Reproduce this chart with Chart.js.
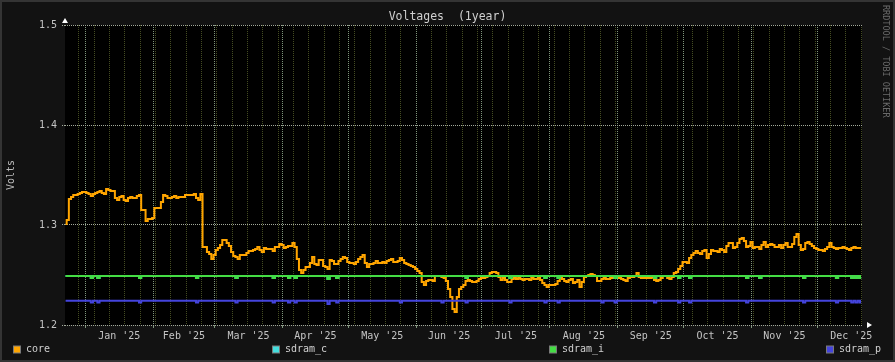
<!DOCTYPE html>
<html>
<head>
<meta charset="utf-8">
<title>Voltages (1year)</title>
<script src="https://cdn.jsdelivr.net/npm/chart.js@4.4.1/dist/chart.umd.min.js"></script>
<style>
  html, body { margin: 0; padding: 0; background: #121212; }
  #wrap { width: 895px; height: 362px; }
</style>
</head>
<body>
<div id="wrap"><canvas id="voltChart" width="895" height="362"></canvas></div>
<script>
/* ── data: x is days since 1 Jan 2025 ── */
const monthLabels = ["Jan '25", "Feb '25", "Mar '25", "Apr '25", "May '25", "Jun '25",
                     "Jul '25", "Aug '25", "Sep '25", "Oct '25", "Nov '25", "Dec '25"];
const monthStartDays = [0, 31, 59, 90, 120, 151, 181, 212, 243, 273, 304, 334];
const monthLengths = [31, 28, 31, 30, 31, 30, 31, 31, 30, 31, 30, 31];
const weekGridFirstDay = -3;          // Sunday 29 Dec 2024
const axisFirstDay = -9.26;
const axisLastDay = 354.4;
const voltTicks = [1.2, 1.3, 1.4, 1.5];

// core: one reading per day, starting 23 Dec 2024
const coreFirstDay = -9;
const coreVolts = [
  1.301, 1.305, 1.326, 1.328, 1.330, 1.330, 1.331, 1.332, 1.333, 1.333,
  1.332, 1.331, 1.329, 1.331, 1.332, 1.333, 1.334, 1.332, 1.331, 1.336,
  1.335, 1.334, 1.334, 1.327, 1.325, 1.328, 1.329, 1.325, 1.324, 1.327,
  1.328, 1.327, 1.327, 1.329, 1.330, 1.315, 1.315, 1.304, 1.306, 1.306,
  1.307, 1.317, 1.317, 1.317, 1.323, 1.330, 1.329, 1.327, 1.327, 1.328,
  1.329, 1.327, 1.328, 1.328, 1.328, 1.330, 1.330, 1.330, 1.330, 1.331,
  1.327, 1.325, 1.331, 1.278, 1.278, 1.273, 1.271, 1.266, 1.270, 1.275,
  1.277, 1.280, 1.285, 1.285, 1.282, 1.279, 1.273, 1.269, 1.268, 1.266,
  1.270, 1.270, 1.270, 1.272, 1.274, 1.274, 1.275, 1.276, 1.278, 1.275,
  1.273, 1.277, 1.276, 1.276, 1.276, 1.274, 1.278, 1.278, 1.281, 1.280,
  1.277, 1.278, 1.279, 1.279, 1.282, 1.278, 1.266, 1.255, 1.252, 1.255,
  1.258, 1.258, 1.262, 1.268, 1.261, 1.260, 1.265, 1.265, 1.259, 1.258,
  1.256, 1.265, 1.264, 1.261, 1.261, 1.264, 1.266, 1.268, 1.267, 1.263,
  1.262, 1.262, 1.261, 1.263, 1.266, 1.268, 1.270, 1.262, 1.258, 1.261,
  1.261, 1.262, 1.264, 1.262, 1.262, 1.263, 1.262, 1.264, 1.265, 1.266,
  1.263, 1.263, 1.264, 1.267, 1.265, 1.262, 1.261, 1.260, 1.259, 1.258,
  1.256, 1.254, 1.252, 1.243, 1.240, 1.244, 1.245, 1.245, 1.244, 1.249,
  1.249, 1.249, 1.248, 1.247, 1.244, 1.236, 1.228, 1.216, 1.213, 1.228,
  1.236, 1.238, 1.240, 1.244, 1.245, 1.244, 1.243, 1.243, 1.244, 1.246,
  1.247, 1.247, 1.248, 1.249, 1.252, 1.253, 1.253, 1.252, 1.248, 1.245,
  1.247, 1.245, 1.243, 1.243, 1.246, 1.247, 1.246, 1.247, 1.246, 1.245,
  1.246, 1.246, 1.245, 1.247, 1.246, 1.246, 1.247, 1.245, 1.242, 1.240,
  1.238, 1.240, 1.240, 1.240, 1.241, 1.244, 1.247, 1.246, 1.244, 1.243,
  1.245, 1.246, 1.242, 1.243, 1.245, 1.238, 1.243, 1.248, 1.249, 1.250,
  1.251, 1.250, 1.249, 1.244, 1.244, 1.246, 1.247, 1.246, 1.246, 1.247,
  1.247, 1.247, 1.247, 1.247, 1.246, 1.245, 1.244, 1.247, 1.248, 1.248,
  1.249, 1.252, 1.248, 1.247, 1.247, 1.247, 1.247, 1.247, 1.248, 1.245,
  1.244, 1.245, 1.247, 1.249, 1.249, 1.247, 1.246, 1.248, 1.252, 1.253,
  1.256, 1.259, 1.263, 1.263, 1.262, 1.267, 1.270, 1.272, 1.274, 1.272,
  1.271, 1.274, 1.275, 1.267, 1.271, 1.275, 1.274, 1.274, 1.273, 1.276,
  1.275, 1.273, 1.279, 1.282, 1.282, 1.277, 1.278, 1.282, 1.286, 1.287,
  1.284, 1.278, 1.279, 1.283, 1.277, 1.278, 1.278, 1.276, 1.280, 1.283,
  1.278, 1.280, 1.281, 1.280, 1.278, 1.278, 1.280, 1.277, 1.280, 1.282,
  1.278, 1.278, 1.281, 1.288, 1.291, 1.280, 1.275, 1.276, 1.282, 1.283,
  1.281, 1.279, 1.277, 1.276, 1.275, 1.275, 1.274, 1.276, 1.278, 1.282,
  1.278, 1.277, 1.276, 1.277, 1.277, 1.278, 1.277, 1.276, 1.275, 1.277,
  1.278, 1.277, 1.277, 1.277
];

// sdram rails are flat; only the days where they dip are listed
const sdramCBase = 1.249;
const sdramIBase = 1.249;
const sdramPBase = 1.2243;
const sdramIDipDays  = [3, 6, 25, 51, 69, 86, 93, 96, 111, 115, 174, 194, 210, 216,
                        242, 260, 271, 276, 302, 308, 328, 343, 350, 352, 354];
const sdramIDipVolts = [1.247, 1.247, 1.247, 1.247, 1.247, 1.247, 1.247, 1.247, 1.246, 1.247,
                        1.247, 1.247, 1.247, 1.247, 1.247, 1.247, 1.247, 1.247, 1.247, 1.247,
                        1.247, 1.247, 1.247, 1.247, 1.247];
const sdramPDipDays  = [3, 6, 25, 51, 69, 86, 93, 96, 111, 115, 144, 163, 174, 194, 210,
                        216, 236, 242, 260, 271, 276, 302, 328, 343, 350, 352, 354];
const sdramPDipVolts = [1.2225, 1.2225, 1.2225, 1.2225, 1.2225, 1.2225, 1.2225, 1.2225, 1.221,
                        1.2225, 1.2225, 1.2225, 1.2225, 1.2225, 1.2225, 1.2225, 1.2225, 1.2225,
                        1.2225, 1.2225, 1.2225, 1.2225, 1.2225, 1.2225, 1.2225, 1.2225, 1.2225];

/* ── build point lists ── */
const corePoints = coreVolts.map((v, i) => ({ x: coreFirstDay + i, y: v }));

function railPoints(base, dipDays, dipVolts) {
  return coreVolts.map((_, i) => {
    const day = coreFirstDay + i;
    const k = dipDays.indexOf(day);
    return { x: day, y: k >= 0 ? dipVolts[k] : base };
  });
}

function buildDayTicks() {
  const ticks = [];
  for (let d = weekGridFirstDay; d <= axisLastDay; d += 7) {
    if (!monthStartDays.includes(d)) ticks.push({ value: d, kind: 'minor' });
  }
  monthStartDays.forEach(d => ticks.push({ value: d, kind: 'major' }));
  monthStartDays.forEach((d, i) => ticks.push({
    value: d + monthLengths[i] / 2, kind: 'label', text: monthLabels[i]
  }));
  return ticks.sort((a, b) => a.value - b.value);
}

/* ── rrdtool-ish frame, title, legend ── */
const rrdDecor = {
  id: 'rrdDecor',
  beforeDraw(chart) {
    const { ctx, width, height, chartArea: a } = chart;
    ctx.save();
    ctx.fillStyle = '#343434';
    ctx.fillRect(0, 0, width, height);
    ctx.fillStyle = '#121212';
    ctx.fillRect(2, 2, width - 4, height - 4);
    ctx.fillStyle = '#000';
    ctx.fillRect(a.left, a.top, a.right - a.left, a.bottom - a.top);
    ctx.restore();
  },
  afterDraw(chart) {
    const { ctx, width, chartArea: a } = chart;
    ctx.save();

    // title
    ctx.font = "11.5px 'DejaVu Sans Mono'";
    ctx.fillStyle = '#cfcfcf';
    ctx.textAlign = 'center';
    ctx.textBaseline = 'middle';
    ctx.fillText('Voltages  (1year)', width / 2, a.top - 8);

    // watermark on the right edge
    ctx.save();
    ctx.translate(width - 10, 5);
    ctx.rotate(Math.PI / 2);
    ctx.font = "8.5px 'DejaVu Sans Mono'";
    ctx.fillStyle = '#6a6a6a';
    ctx.textAlign = 'left';
    ctx.fillText('RRDTOOL / TOBI OETIKER', 0, 0);
    ctx.restore();

    // axis arrows
    ctx.fillStyle = '#ffffff';
    ctx.beginPath();
    ctx.moveTo(a.left, a.top - 7);
    ctx.lineTo(a.left - 3, a.top - 2);
    ctx.lineTo(a.left + 3, a.top - 2);
    ctx.closePath();
    ctx.fill();
    ctx.beginPath();
    ctx.moveTo(a.right + 10, a.bottom);
    ctx.lineTo(a.right + 5, a.bottom - 3);
    ctx.lineTo(a.right + 5, a.bottom + 3);
    ctx.closePath();
    ctx.fill();

    // legend
    const legendLeft = [13, 272, 549, 826];
    const ly = 349.5;
    ctx.font = "10px 'DejaVu Sans Mono'";
    ctx.textAlign = 'left';
    ctx.textBaseline = 'middle';
    chart.data.datasets.forEach((ds, i) => {
      const x = legendLeft[i];
      ctx.fillStyle = ds.borderColor;
      ctx.fillRect(x + 0.5, ly - 3.5, 7, 7);
      ctx.strokeStyle = '#7a7a7a';
      ctx.lineWidth = 1;
      ctx.strokeRect(x + 0.5, ly - 3.5, 7, 7);
      ctx.fillStyle = '#d0d0d0';
      ctx.fillText(ds.label, x + 13, ly);
    });
    ctx.restore();
  }
};

Chart.defaults.font.family = "'DejaVu Sans Mono', monospace";
Chart.defaults.font.size = 10;
Chart.defaults.color = '#bdbdbd';

const gridH = '#a3aa9b';
const gridMajor = '#7e947b';
const gridMinor = '#444c22';

new Chart(document.getElementById('voltChart'), {
  type: 'line',
  data: {
    datasets: [
      { label: 'core',    data: corePoints, borderColor: '#ffa500', order: 4 },
      { label: 'sdram_c', data: railPoints(sdramCBase, sdramIDipDays, sdramIDipVolts), borderColor: '#44dddd', order: 3 },
      { label: 'sdram_i', data: railPoints(sdramIBase, sdramIDipDays, sdramIDipVolts), borderColor: '#44dd44', order: 2 },
      { label: 'sdram_p', data: railPoints(sdramPBase, sdramPDipDays, sdramPDipVolts), borderColor: '#4444dd', order: 1 }
    ]
  },
  options: {
    responsive: false,
    animation: false,
    elements: {
      point: { radius: 0 },
      line: { borderWidth: 2, stepped: 'middle', tension: 0, fill: false }
    },
    layout: { padding: { top: 25, right: 33, left: 0, bottom: 0 } },
    plugins: { legend: { display: false }, tooltip: { enabled: false } },
    scales: {
      x: {
        type: 'linear',
        min: axisFirstDay,
        max: axisLastDay,
        bounds: 'data',
        afterBuildTicks: axis => { axis.ticks = buildDayTicks(); },
        afterFit: axis => { axis.height = 37; },
        ticks: {
          autoSkip: false,
          maxRotation: 0,
          minRotation: 0,
          padding: 2,
          color: '#c4c4c4',
          callback: (value, index, ticks) => ticks[index].text || ''
        },
        grid: {
          color: c => c.tick && c.tick.kind === 'major' ? gridMajor
                    : c.tick && c.tick.kind === 'minor' ? gridMinor : 'transparent',
          tickColor: c => c.tick && c.tick.kind === 'major' ? gridMajor : 'transparent',
          tickLength: 3
        },
        border: { display: false, dash: [1, 1] }
      },
      y: {
        min: 1.2,
        max: 1.5,
        afterBuildTicks: axis => { axis.ticks = voltTicks.map(v => ({ value: v })); },
        afterFit: axis => { axis.width = 65; },
        ticks: {
          padding: 5,
          color: '#c4c4c4',
          callback: v => v.toFixed(1)
        },
        grid: { color: gridH, tickColor: gridH, tickLength: 3, tickBorderDash: [1, 1] },
        border: { display: false, dash: [1, 1] },
        title: {
          display: true,
          text: 'Volts',
          color: '#bdbdbd',
          padding: { top: 5, bottom: 0 },
          font: { size: 10 }
        }
      }
    }
  },
  plugins: [rrdDecor]
});
</script>
</body>
</html>
